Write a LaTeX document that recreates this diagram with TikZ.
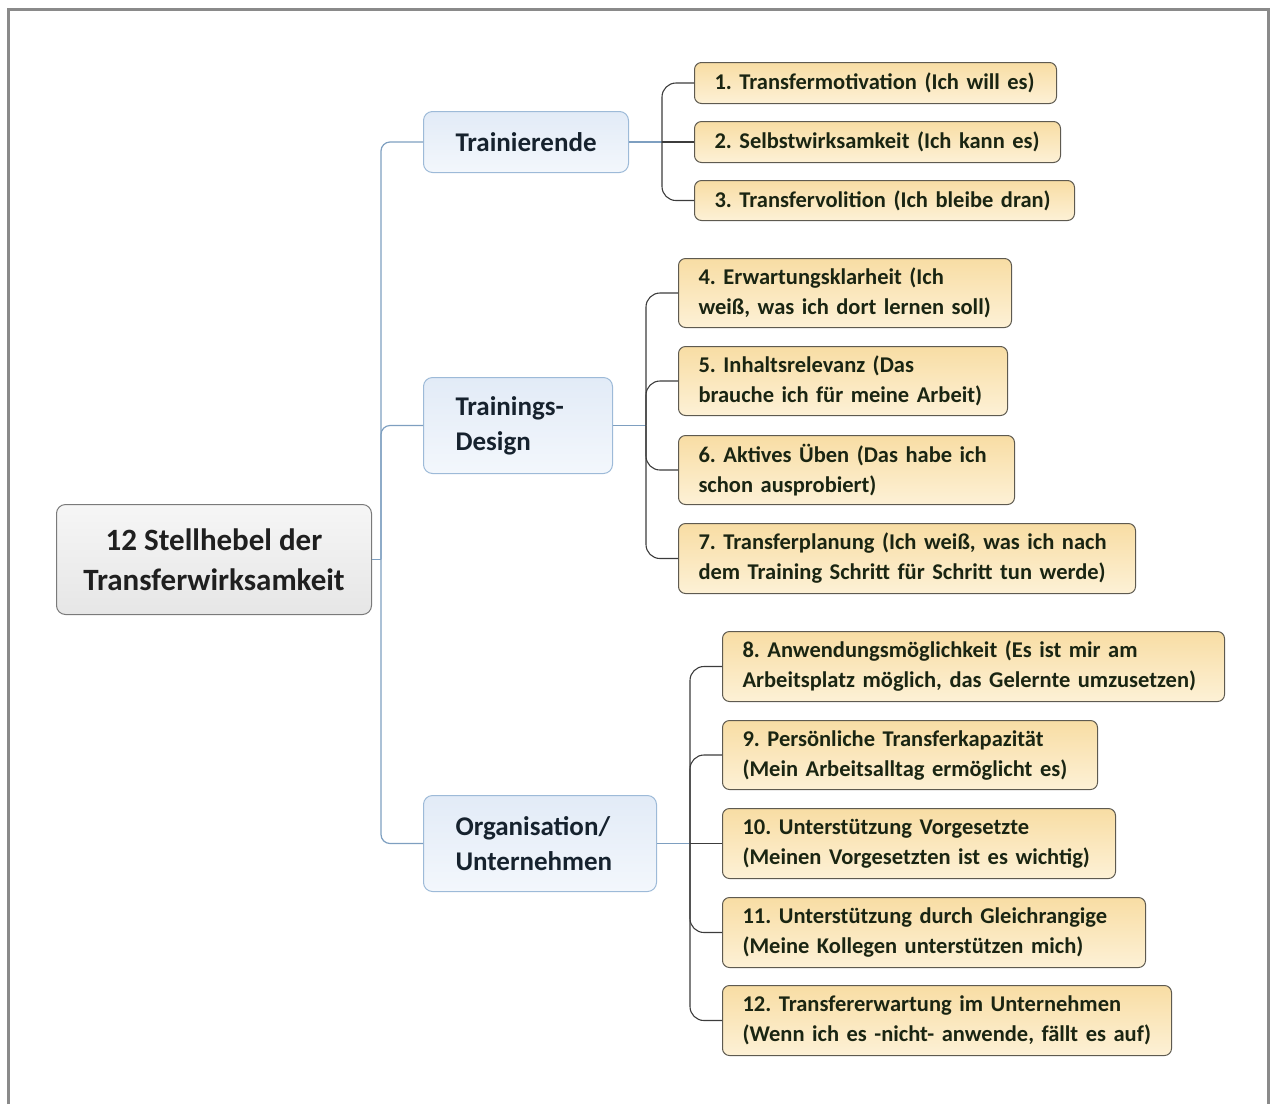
\documentclass[tikz,border=0pt]{standalone}
\usepackage{fontspec}
\setmainfont{Carlito}
\usetikzlibrary{calc}
\definecolor{leaftop}{HTML}{F8DDA4}
\definecolor{leafbot}{HTML}{FDF1D6}
\definecolor{leafborder}{HTML}{5E5A50}
\definecolor{leaftext}{HTML}{1A2512}
\definecolor{midtop}{HTML}{E2EBF7}
\definecolor{midbot}{HTML}{F3F7FC}
\definecolor{midborder}{HTML}{9DBAD8}
\definecolor{midtext}{HTML}{16222E}
\definecolor{roottop}{HTML}{F6F6F6}
\definecolor{rootbot}{HTML}{E6E6E6}
\definecolor{rootborder}{HTML}{7A7A7A}
\definecolor{trunkcol}{HTML}{7E9FC0}
\definecolor{branchcol}{HTML}{3C3C3C}
\definecolor{framecol}{HTML}{8A8A8A}
\newcommand{\lin}[1]{\mbox{#1}}
\begin{document}
\frenchspacing
\begin{tikzpicture}[x=1pt,y=-1pt,
  leaf/.style={draw=leafborder, line width=1pt, rounded corners=7pt,
    top color=leaftop, bottom color=leafbot, anchor=north west,
    inner xsep=20pt, inner ysep=0pt, align=left, text=leaftext,
    font=\bfseries\fontsize{22.5}{30}\selectfont},
  mid/.style={draw=midborder, line width=1pt, rounded corners=9pt,
    top color=midtop, bottom color=midbot, anchor=north west,
    inner xsep=32pt, inner ysep=0pt, align=left, text=midtext,
    font=\bfseries\fontsize{27}{35}\selectfont},
  rootbox/.style={draw=rootborder, line width=1pt, rounded corners=9pt,
    top color=roottop, bottom color=rootbot, anchor=north west,
    inner sep=0pt, align=center, text=black!88,
    font=\bfseries\fontsize{31}{40}\selectfont},
  trunk/.style={draw=trunkcol, line width=1.2pt, rounded corners=9pt},
  branch/.style={draw=branchcol, line width=1.1pt, rounded corners=14pt}
]
\useasboundingbox (0,0) rectangle (1272,1104);
% frame
\draw[framecol, line width=3pt] (8.5,1104) -- (8.5,9.5) -- (1268,9.5) -- (1268,1104);

% root
\node[rootbox, minimum width=315pt, minimum height=110pt] (root) at (56,504)
  {12 Stellhebel der\\Transferwirksamkeit};

% level 1
\node[mid, text width=141pt, minimum height=61pt] (T) at (423,111) {\lin{Trainierende}};
\node[mid, text width=125pt, minimum height=96pt] (D) at (423,377) {\lin{Trainings-}\\\lin{Design}};
\node[mid, text width=169pt, minimum height=96pt] (O) at (423,795) {\lin{Organisation/}\\\lin{Unternehmen}};

% leaves
\node[leaf, text width=322pt, minimum height=41pt] (l1) at (694,62) {\lin{1. Transfermotivation (Ich will es)}};
\node[leaf, text width=326pt, minimum height=41pt] (l2) at (694,121) {\lin{2. Selbstwirksamkeit (Ich kann es)}};
\node[leaf, text width=340pt, minimum height=40pt] (l3) at (694,180) {\lin{3. Transfervolition (Ich bleibe dran)}};
\node[leaf, text width=293pt, minimum height=69pt] (l4) at (678,258) {\lin{4. Erwartungsklarheit (Ich}\\\lin{weiß, was ich dort lernen soll)}};
\node[leaf, text width=289pt, minimum height=69pt] (l5) at (678,346) {\lin{5. Inhaltsrelevanz (Das}\\\lin{brauche ich für meine Arbeit)}};
\node[leaf, text width=296pt, minimum height=69pt] (l6) at (678,435) {\lin{6. Aktives Üben (Das habe ich}\\\lin{schon ausprobiert)}};
\node[leaf, text width=417pt, minimum height=70pt] (l7) at (678,523) {\lin{7. Transferplanung (Ich weiß, was ich nach}\\\lin{dem Training Schritt für Schritt tun werde)}};
\node[leaf, text width=462pt, minimum height=70pt] (l8) at (722,631) {\lin{8. Anwendungsmöglichkeit (Es ist mir am}\\\lin{Arbeitsplatz möglich, das Gelernte umzusetzen)}};
\node[leaf, text width=335pt, minimum height=69pt] (l9) at (722,720) {\lin{9. Persönliche Transferkapazität}\\\lin{(Mein Arbeitsalltag ermöglicht es)}};
\node[leaf, text width=353pt, minimum height=70pt] (l10) at (722,808) {\lin{10. Unterstützung Vorgesetzte}\\\lin{(Meinen Vorgesetzten ist es wichtig)}};
\node[leaf, text width=383pt, minimum height=70pt] (l11) at (722,897) {\lin{11. Unterstützung durch Gleichrangige}\\\lin{(Meine Kollegen unterstützen mich)}};
\node[leaf, text width=409pt, minimum height=70pt] (l12) at (722,985) {\lin{12. Transfererwartung im Unternehmen}\\\lin{(Wenn ich es -nicht- anwende, fällt es auf)}};

% trunk connectors
\coordinate (tj) at ([xshift=9pt]root.east);
\draw[trunk] (root.east) -- (tj);
\draw[trunk] (tj) |- (T.west);
\draw[trunk] (tj) |- (D.west);
\draw[trunk] (tj) |- (O.west);

% branch connectors
\coordinate (jt) at ([xshift=33pt]T.east);
\coordinate (jd) at ([xshift=33pt]D.east);
\coordinate (jo) at ([xshift=33pt]O.east);
\draw[trunk] (T.east) -- (jt);
\draw[trunk] (D.east) -- (jd);
\draw[trunk] (O.east) -- (jo);
\draw[branch] (jt) -- (l2.west);
\draw[branch] (jt) |- (l1.west);
\draw[branch] (jt) |- (l3.west);
\draw[branch] (jd) |- (l4.west);
\draw[branch] (jd) |- (l5.west);
\draw[branch] (jd) |- (l6.west);
\draw[branch] (jd) |- (l7.west);
\draw[branch] (jo) -- (l10.west);
\draw[branch] (jo) |- (l8.west);
\draw[branch] (jo) |- (l9.west);
\draw[branch] (jo) |- (l11.west);
\draw[branch] (jo) |- (l12.west);
\end{tikzpicture}
\end{document}
